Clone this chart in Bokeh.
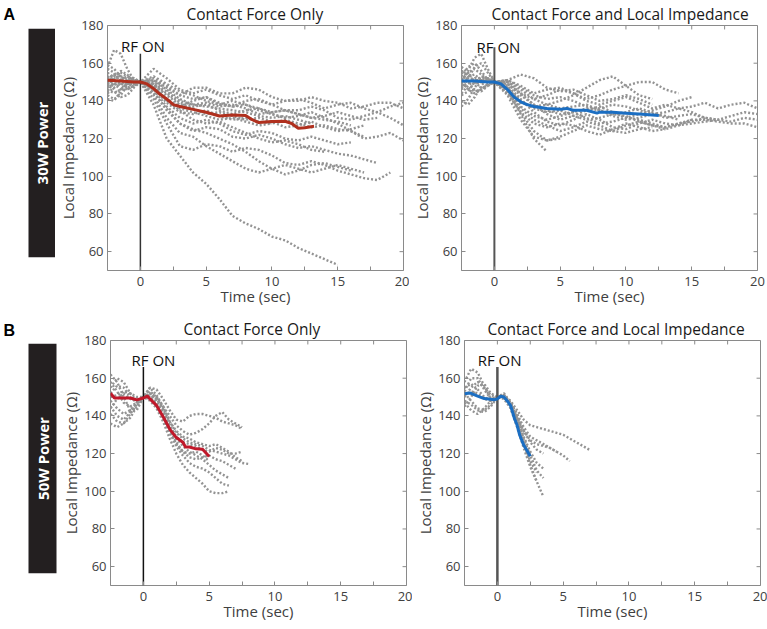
from math import pi
from bokeh.plotting import figure
from bokeh.layouts import row, column
from bokeh.models import Range1d, FixedTicker, Label, Title
from bokeh.core.properties import value
from bokeh.embed import file_html
from bokeh.resources import INLINE

# ---------------- data ----------------
T_A = [-2.5, -2.0, -1.5, -1.0, -0.5, 0.0, 1, 2, 3, 4, 5, 6, 7, 8, 9, 10,
       11, 12, 13, 14, 15, 16, 17, 18, 19, 20]
T_B = [-2.5, -2.0, -1.5, -1.0, -0.5, 0.0, 0.5, 1.0, 1.5, 2.0, 2.5, 3.0, 3.5,
       4.0, 4.5, 5.0, 5.5, 6.0, 6.5, 7.0, 7.5, 8.0]

X_TICKS = [0, 5, 10, 15, 20]
X_MINOR = [-2.5, 2.5, 7.5, 12.5, 17.5]
Y_TICKS = [60, 80, 100, 120, 140, 160, 180]
X_MIN, X_MAX = -2.5, 20
Y_MIN, Y_MAX = 50, 180
RF_TIME = 0

# 30 W, contact force only
CF30 = [
    [152, 154, 153, 151, 150, 150, 138, 120, 111, 102, 96, 88, 79, 75, 72, 68, 66, 62, 59, 56, 53],
    [158, 167, 165, 157, 151, 150, 157, 152, 146, 144, 146, 143, 141, 143, 140, 138, 140, 141, 139, 136, 138, 139, 136, 134, 137, 139],
    [145, 150, 156, 154, 150, 150, 151, 147, 143, 147, 147, 144, 144, 147, 146, 142, 140, 140, 142, 140, 139, 136, 137, 139, 139, 136],
    [141, 140, 145, 150, 152, 150, 148, 141, 137, 140, 142, 138, 137, 140, 141, 138, 135, 135, 137, 135, 131, 130, 132, 134, 131, 127],
    [155, 152, 148, 146, 148, 150, 149, 144, 139, 137, 138, 135, 133, 135, 136, 133, 131, 132, 134, 131, 128, 124, 120, 121, 123, 119],
    [150, 146, 142, 143, 147, 150, 147, 139, 134, 133, 135, 132, 130, 131, 129, 128, 130, 128, 126, 127, 125, 124, 121],
    [148, 151, 153, 152, 151, 150, 150, 145, 140, 138, 139, 137, 138, 136, 133, 134, 135, 133, 131, 132, 134, 132, 130, 131],
    [146, 144, 146, 149, 151, 150, 145, 135, 128, 124, 126, 125, 121, 120, 122, 120, 117, 115, 116, 114, 112, 111, 109, 107],
    [152, 149, 146, 146, 148, 150, 141, 128, 116, 114, 117, 116, 113, 115, 114, 111, 107, 106, 108, 106, 103, 101, 99, 98, 102],
    [143, 141, 143, 148, 151, 150, 143, 131, 123, 121, 116, 112, 108, 104, 102, 104, 106, 104, 102, 104, 106, 104, 102],
    [157, 155, 151, 149, 149, 150, 144, 136, 128, 125, 123, 120, 117, 113, 108, 104, 101, 103, 106, 107, 105, 103],
    [150, 153, 155, 153, 151, 150, 148, 140, 135, 130, 128, 129, 126, 123, 120, 118, 119, 117, 114, 113],
    [147, 149, 150, 150, 150, 150, 151, 146, 141, 138, 137, 136, 135, 134, 132, 131, 132, 130, 128],
    [153, 151, 149, 148, 149, 150, 152, 148, 143, 141, 142, 139, 137, 138, 136, 134, 135, 133, 131, 130, 129, 127],
    [149, 148, 151, 153, 152, 150, 147, 141, 136, 134, 132, 130, 131, 129, 127, 128],
    [151, 154, 150, 147, 148, 150, 153, 149, 145, 143, 140, 138, 140, 138, 135, 133, 131],
    [144, 147, 149, 149, 150, 150, 146, 137, 131, 128, 130, 128, 124, 122, 124, 123, 120, 119, 121, 119, 117, 118],
    [159, 157, 153, 150, 149, 150, 149, 143, 138, 136, 133, 134, 132, 130, 131, 129, 126, 127, 129, 126, 124, 125, 127],
]
CF30_MEAN_T = [-2.5, -1.5, -0.5, 0, 0.5, 1, 1.5, 2, 2.5, 3, 4, 5, 6, 7, 8, 8.5, 9, 10, 11, 11.5, 12, 12.5, 13.2]
CF30_MEAN_V = [151, 150.5, 150, 150, 149, 146.5, 143.5, 141, 138, 137, 135.5, 134, 132, 132.5, 132.3, 130, 128.5, 129, 129.2, 128, 125.5, 125.8, 126.5]

# 30 W, contact force and local impedance
CFLI30 = [
    [150, 156, 163, 165, 157, 150, 146, 133, 120, 113],
    [146, 152, 158, 160, 155, 150, 145, 134, 124, 119, 120],
    [140, 138, 142, 148, 152, 150, 151, 154, 152, 147, 145, 146, 143, 140, 141, 143, 141, 138],
    [155, 150, 146, 145, 148, 150, 151, 148, 144, 146, 147, 144, 141, 143, 146, 148, 150, 150, 146, 144],
    [152, 150, 149, 150, 151, 150, 149, 144, 141, 143, 146, 144, 140, 138, 140, 142, 139, 136, 138, 136, 137, 139, 136, 138, 139, 136],
    [144, 148, 151, 151, 150, 150, 147, 139, 137, 138, 136, 137, 138, 135, 133, 134, 136, 134, 131, 132, 133, 131, 130, 132, 134, 133],
    [158, 155, 150, 147, 148, 150, 146, 137, 132, 130, 132, 134, 131, 128, 129, 131, 130, 128, 126, 128, 130, 130, 129, 128, 128, 126],
    [137, 141, 147, 152, 152, 150, 143, 130, 121, 119, 121, 124, 127, 125, 124, 127, 129, 127, 125, 127, 128, 129, 130, 129, 131, 130],
    [148, 153, 154, 151, 150, 150, 148, 141, 134, 129, 127, 130, 133, 130, 126, 125, 128, 130, 128, 127, 130],
    [153, 158, 160, 156, 151, 150, 150, 146, 141, 138, 140, 143, 147, 151, 153, 148, 143, 141],
    [149, 147, 145, 146, 149, 150, 144, 134, 128, 126, 128, 127, 124, 122, 125, 128, 126, 124, 125],
    [151, 155, 157, 154, 151, 150, 151, 147, 143, 141, 142, 140, 137, 136, 138, 137, 135, 133, 134, 136, 134, 131, 130],
    [143, 145, 150, 153, 152, 150, 149, 143, 138, 135, 133, 134, 136, 135, 132, 130, 131, 133, 132, 130],
    [156, 153, 151, 150, 150, 150, 147, 140, 136, 134, 135, 132, 130, 131, 133, 132, 129, 127, 126, 128, 129, 131],
    [150, 146, 144, 146, 149, 150, 145, 136, 130, 127, 124, 126, 129, 127, 124, 123, 125, 126],
    [147, 150, 152, 152, 151, 150, 150, 144, 138, 133, 130, 132, 135, 137, 134, 131, 133, 135, 137, 140, 142],
]
CFLI30_MEAN_T = [-2.5, -1.5, -0.5, 0, 0.5, 1, 1.5, 2, 2.5, 3, 4, 5, 5.5, 6, 7, 7.8, 8, 9, 10, 11, 12, 12.5]
CFLI30_MEAN_V = [150.5, 150.5, 150, 150, 149, 146, 142, 139.5, 138, 137, 136, 135.5, 136, 135, 135, 133.5, 134, 134, 133.5, 133, 132.5, 132.2]

# 50 W, contact force only
CF50 = [
    [155, 160, 158, 152, 148, 150, 155, 154, 149, 143, 138, 137, 140, 141, 141, 140, 139, 137, 136, 135, 133],
    [145, 140, 138, 142, 147, 150, 152, 150, 145, 140, 135, 132, 130, 131, 133, 136, 140, 142, 138, 136, 134],
    [162, 158, 150, 143, 143, 150, 155, 151, 145, 137, 131, 128, 126, 125, 124, 122, 121, 120, 119, 117, 115, 114.5],
    [152, 156, 155, 150, 147, 150, 153, 150, 143, 135, 129, 126, 125, 124, 122, 121, 123, 122, 120, 120, 121],
    [136, 134, 136, 141, 146, 150, 150, 147, 141, 133, 126, 121, 118, 117, 118, 119, 117, 116, 114, 112],
    [148, 144, 141, 143, 147, 150, 149, 145, 139, 131, 124, 119, 115, 113, 112, 110, 107, 104, 103],
    [141, 137, 136, 139, 145, 150, 148, 144, 137, 128, 120, 114, 110, 107, 104, 100, 99, 99, 100],
    [158, 153, 147, 145, 147, 150, 152, 148, 142, 134, 128, 124, 121, 119, 117, 114, 111, 109, 107],
    [150, 151, 153, 152, 150, 150, 151, 149, 144, 137, 132, 129, 128, 126, 125, 124, 125, 123, 121, 118, 116],
    [144, 149, 152, 149, 148, 150, 150, 146, 139, 132, 125, 121, 120, 121, 119, 116],
]
CF50_MEAN_T = [-2.5, -2.2, -2, -1, -0.5, 0, 0.3, 0.5, 1, 1.5, 2, 2.5, 3, 3.2, 3.5, 4, 4.5, 5]
CF50_MEAN_V = [152, 149.5, 149.5, 149.5, 148.5, 149.5, 150.5, 149, 145.5, 139.5, 133, 128.5, 126, 123.5, 123.5, 122.5, 122.3, 118.5]

# 50 W, contact force and local impedance
CFLI50 = [
    [158, 165, 163, 156, 149, 150, 151, 148, 143, 138, 135, 134, 133, 132, 131, 130, 128, 126, 124, 122],
    [150, 155, 158, 155, 151, 150, 151, 147, 141, 134, 129, 127, 125, 123, 121, 119, 116],
    [145, 150, 156, 157, 152, 150, 150, 146, 139, 132, 127, 125, 124, 123, 121],
    [152, 148, 144, 143, 146, 150, 150, 145, 136, 126, 114, 105, 97],
    [148, 146, 143, 142, 145, 150, 149, 144, 134, 123, 113, 105],
    [155, 157, 154, 150, 148, 150, 151, 146, 136, 125, 116, 110],
    [153, 160, 160, 154, 149, 150, 152, 147, 139, 129, 121, 115, 112],
    [147, 143, 141, 144, 148, 150, 150, 146, 140, 132, 126, 122, 120],
    [151, 153, 152, 149, 148, 150, 151, 147, 138, 128, 119, 111, 107],
]
CFLI50_MEAN_T = [-2.5, -2.1, -1.5, -1, -0.5, -0.2, 0, 0.25, 0.5, 0.8, 1, 1.3, 1.5, 1.7, 2, 2.5]
CFLI50_MEAN_V = [151.8, 152.2, 150.5, 149.2, 148.8, 148.6, 149, 150.4, 150, 147.5, 145.5, 138.6, 135, 129.7, 124.5, 118.6]

# ---------------- style ----------------
FONT = "Open Sans"
GRAY = "#939393"
AXC = "#8a8a8a"
TXT = "#404040"
FW, FH = 296, 245
TICK_DX = 0.3    # length of right-side ticks, in x units (~4 px)
TICK_DY = 2.1    # length of top ticks, in y units (~4 px)


def panel(traces, grid, mt, mv, mcolor, title, title_dx, title_standoff,
          rf_x, rf_y, vtop, vcolor, vwidth, mbl, mbr, mbt, mbb):
    p = figure(frame_width=FW, frame_height=FH,
               x_range=Range1d(X_MIN, X_MAX), y_range=Range1d(Y_MIN, Y_MAX),
               min_border_left=mbl, min_border_right=mbr,
               min_border_top=mbt, min_border_bottom=mbb,
               output_backend="svg", toolbar_location=None)
    p.title = Title(text=title, align="left", offset=title_dx,
                    standoff=title_standoff, text_font=FONT,
                    text_font_size="15.5px", text_font_style="normal",
                    text_color="#1a1a1a")
    p.grid.visible = False
    p.outline_line_color = AXC
    p.outline_line_width = 1
    p.background_fill_color = "white"
    p.border_fill_color = "white"

    xa = p.xaxis[0]
    ya = p.yaxis[0]
    xa.ticker = FixedTicker(ticks=X_TICKS, minor_ticks=X_MINOR)
    ya.ticker = FixedTicker(ticks=Y_TICKS)
    for ax in (xa, ya):
        ax.axis_line_color = None
        ax.major_tick_in = 4
        ax.major_tick_out = 0
        ax.minor_tick_in = 4
        ax.minor_tick_out = 0
        ax.major_tick_line_color = AXC
        ax.minor_tick_line_color = AXC
        ax.major_label_text_font = FONT
        ax.major_label_text_font_size = "13px"
        ax.major_label_text_color = TXT
        ax.axis_label_text_font = FONT
        ax.axis_label_text_font_size = "15px"
        ax.axis_label_text_font_style = "normal"
        ax.axis_label_text_color = TXT
    xa.axis_label = "Time (sec)"
    ya.axis_label = "Local Impedance (\u03a9)"
    xa.major_label_standoff = 6
    xa.axis_label_standoff = -3
    ya.major_label_standoff = 4
    ya.axis_label_standoff = 0

    # tick marks on the top and right edges of the box
    top_ticks = X_TICKS + X_MINOR
    p.segment(x0=top_ticks, y0=[Y_MAX] * len(top_ticks), x1=top_ticks,
              y1=[Y_MAX - TICK_DY] * len(top_ticks), line_color=AXC,
              line_width=1)
    p.segment(x0=[X_MAX] * len(Y_TICKS), y0=Y_TICKS,
              x1=[X_MAX - TICK_DX] * len(Y_TICKS), y1=Y_TICKS,
              line_color=AXC, line_width=1)

    for tr in traces:
        p.line(grid[:len(tr)], tr, line_color=GRAY, line_width=2.4,
               line_dash="2 2")
    p.segment(x0=[RF_TIME], y0=[Y_MIN], x1=[RF_TIME], y1=[vtop],
              line_color=vcolor, line_width=vwidth)
    p.line(mt, mv, line_color=mcolor, line_width=3)

    p.add_layout(Label(x=rf_x, y=rf_y, text="RF ON", text_font=FONT,
                       text_font_size="15px", text_color="#111111",
                       text_align="left", text_baseline="alphabetic"))
    return p


def side(w, box, label, letter, letter_dx, letter_standoff, mbt, mbb):
    s = figure(frame_width=w, frame_height=FH, x_range=Range1d(0, w),
               y_range=Range1d(0, FH), min_border_left=0, min_border_right=0,
               min_border_top=mbt, min_border_bottom=mbb,
               x_axis_location=None, y_axis_location=None,
               output_backend="svg", toolbar_location=None)
    s.title = Title(text=letter, align="left", offset=letter_dx,
                    standoff=letter_standoff, text_font="Liberation Sans",
                    text_font_size="16px", text_font_style="bold",
                    text_color="black")
    s.grid.visible = False
    s.outline_line_color = None
    s.border_fill_color = "white"
    s.quad(left=[box[0]], right=[box[1]], bottom=[box[2]], top=[box[3]],
           fill_color="#231f20", line_color=None)
    s.text(x=[(box[0] + box[1]) / 2], y=[(box[2] + box[3]) / 2],
           text=[label], angle=pi / 2, text_align="center",
           text_baseline="middle", text_color="white",
           text_font=value(FONT), text_font_style="bold",
           text_font_size="15px")
    return s


side_a = side(55, (28, 55.7, FH - 231.7, FH - 3.3), "30W Power", "A", 3, 5,
              25, 42)
pa1 = panel(CF30, T_A, CF30_MEAN_T, CF30_MEAN_V, "#b0301e",
            "Contact Force Only", 79, 1, -1.47, 169, 165, "#333333", 1.5,
            48, 6, 25, 42)
pa2 = panel(CFLI30, T_A, CFLI30_MEAN_T, CFLI30_MEAN_V, "#1b6ec2",
            "Contact Force and Local Impedance", 30, 1, -1.36, 168.5, 168.5,
            "#555555", 2, 48, 8, 25, 42)

side_b = side(58, (28, 56, FH - 232.7, FH - 3.3), "50W Power", "B", 3, 3,
              28, 42)
pb1 = panel(CF50, T_B, CF50_MEAN_T, CF50_MEAN_V, "#c0182a",
            "Contact Force Only", 73, 1, -0.9, 169.4, 166, "#111111", 1.5,
            48, 6, 28, 42)
pb2 = panel(CFLI50, T_B, CFLI50_MEAN_T, CFLI50_MEAN_V, "#1b6ec2",
            "Contact Force and Local Impedance", 23, 1, -1.5, 169.4, 166,
            "#555555", 2.5, 48, 7, 28, 42)

layout = column(row(side_a, pa1, pa2), row(side_b, pb1, pb2))

open("out.html", "w").write(file_html(layout, INLINE))
